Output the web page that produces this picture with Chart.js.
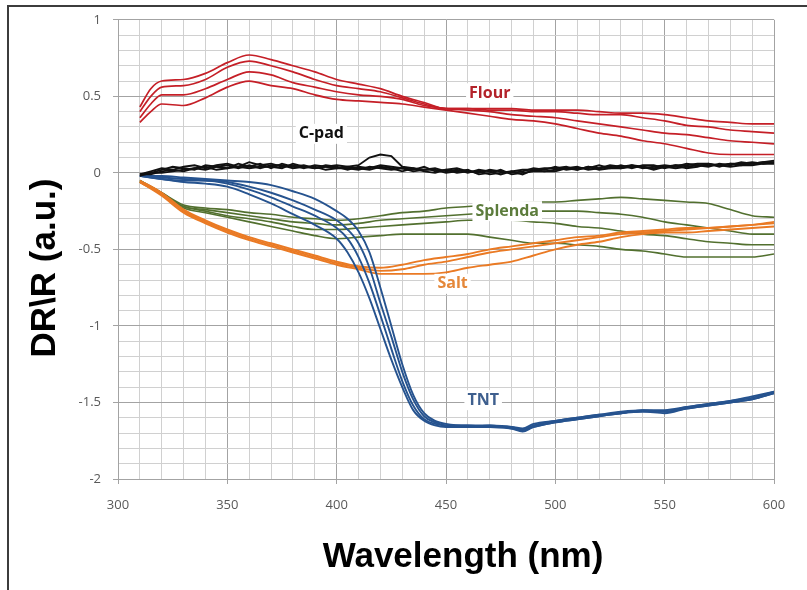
<!DOCTYPE html>
<html>
<head>
<meta charset="utf-8">
<script src="https://cdn.jsdelivr.net/npm/chart.js@4.4.1/dist/chart.umd.min.js"></script>
<style>
  html, body { margin: 0; padding: 0; background: #fff; }
  #wrap { position: relative; width: 807px; height: 590px; }
  #frame { position: absolute; left: 7px; top: 5px; right: 0; bottom: 0; border-top: 2px solid #3c3c3c; border-left: 2px solid #3c3c3c; pointer-events: none; }
</style>
</head>
<body>
<div id="wrap">
  <canvas id="chart" width="807" height="590"></canvas>
  <div id="frame"></div>
</div>
<script>
// wavelengths (nm) for each family of curves
const nm10 = [310,320,330,340,350,360,370,380,390,400,410,420,430,440,450,460,470,480,490,500,510,520,530,540,550,560,570,580,590,600];
const flourNm = [310,315,320,330,340,350,360,370,380,390,400,410,420,430,440,450,460,470,480,490,500,510,520,530,540,550,560,570,580,590,600];
const tntNm = [310,320,330,340,350,360,370,380,390,400,405,410,415,420,425,430,435,440,445,450,460,470,480,485,490,500,510,520,530,540,550,560,570,580,590,600];
const cpadNm = [310,315,320,325,330,335,340,345,350,355,360,365,370,375,380,385,390,395,400,405,410,415,420,425,430,435,440,445,450,455,460,465,470,475,480,485,490,495,500,505,510,515,520,525,530,535,540,545,550,555,560,565,570,575,580,585,590,595,600];

// Flour (4 runs)
const flour1 = [0.43,0.55,0.60,0.61,0.65,0.72,0.77,0.74,0.70,0.66,0.61,0.58,0.55,0.50,0.46,0.42,0.42,0.42,0.42,0.41,0.41,0.41,0.40,0.39,0.39,0.38,0.36,0.34,0.33,0.32,0.32];
const flour2 = [0.40,0.50,0.56,0.57,0.61,0.69,0.73,0.70,0.66,0.61,0.57,0.55,0.53,0.49,0.45,0.42,0.42,0.41,0.41,0.40,0.40,0.39,0.38,0.38,0.36,0.34,0.31,0.30,0.28,0.27,0.26];
const flour3 = [0.36,0.45,0.51,0.51,0.55,0.61,0.66,0.64,0.59,0.56,0.53,0.51,0.50,0.48,0.44,0.42,0.41,0.40,0.38,0.37,0.36,0.34,0.32,0.30,0.28,0.26,0.25,0.23,0.21,0.20,0.19];
const flour4 = [0.33,0.40,0.45,0.44,0.49,0.56,0.60,0.57,0.55,0.51,0.48,0.47,0.46,0.45,0.43,0.41,0.39,0.37,0.35,0.34,0.32,0.29,0.26,0.24,0.21,0.19,0.16,0.13,0.12,0.12,0.12];

// C-pad (4 runs, noisy)
const cpad1 = [-0.01,0.01,0.03,0.02,0.04,0.05,0.03,0.05,0.06,0.04,0.07,0.05,0.06,0.04,0.05,0.03,0.05,0.04,0.03,0.04,0.05,0.10,0.12,0.11,0.04,0.03,0.02,0.03,0.01,0.02,0.00,0.02,0.01,-0.01,0.01,0.02,0.02,0.03,0.03,0.04,0.02,0.04,0.03,0.05,0.04,0.05,0.03,0.04,0.05,0.04,0.06,0.05,0.04,0.06,0.05,0.07,0.06,0.07,0.08];
const cpad2 = [-0.01,0.00,0.02,0.04,0.03,0.02,0.05,0.04,0.03,0.06,0.04,0.06,0.03,0.06,0.04,0.05,0.03,0.05,0.04,0.02,0.04,0.03,0.05,0.04,0.03,0.02,0.04,0.01,0.02,0.03,0.01,0.00,0.02,0.01,0.00,0.01,0.03,0.02,0.04,0.02,0.03,0.03,0.05,0.03,0.05,0.03,0.05,0.05,0.03,0.05,0.05,0.06,0.06,0.04,0.06,0.06,0.07,0.06,0.07];
const cpad3 = [-0.02,0.00,0.00,0.01,0.02,0.03,0.02,0.04,0.05,0.03,0.05,0.03,0.05,0.05,0.03,0.04,0.04,0.02,0.03,0.03,0.02,0.04,0.03,0.02,0.03,0.01,0.02,0.02,0.00,0.01,0.02,-0.01,0.00,0.02,-0.01,0.00,0.01,0.01,0.02,0.03,0.04,0.02,0.03,0.04,0.03,0.04,0.04,0.02,0.04,0.03,0.04,0.05,0.05,0.05,0.04,0.05,0.05,0.06,0.06];
const cpad4 = [-0.01,-0.01,0.01,0.02,0.01,0.03,0.04,0.02,0.03,0.04,0.03,0.04,0.04,0.03,0.06,0.04,0.03,0.04,0.05,0.04,0.03,0.02,0.04,0.03,0.01,0.03,0.01,0.00,0.02,0.00,0.01,0.01,-0.01,0.00,0.01,-0.01,0.02,0.01,0.01,0.03,0.02,0.04,0.02,0.03,0.03,0.05,0.04,0.03,0.04,0.05,0.03,0.04,0.06,0.05,0.06,0.05,0.06,0.07,0.07];

// Splenda (4 runs)
const splenda1 = [-0.05,-0.13,-0.21,-0.23,-0.24,-0.26,-0.27,-0.29,-0.30,-0.31,-0.30,-0.28,-0.26,-0.25,-0.23,-0.22,-0.21,-0.20,-0.19,-0.19,-0.18,-0.17,-0.16,-0.17,-0.18,-0.19,-0.20,-0.24,-0.28,-0.29];
const splenda2 = [-0.05,-0.13,-0.22,-0.24,-0.26,-0.28,-0.30,-0.32,-0.33,-0.34,-0.33,-0.31,-0.30,-0.29,-0.28,-0.27,-0.26,-0.25,-0.25,-0.25,-0.25,-0.26,-0.27,-0.29,-0.32,-0.34,-0.36,-0.38,-0.40,-0.40];
const splenda3 = [-0.06,-0.14,-0.22,-0.25,-0.28,-0.30,-0.32,-0.35,-0.37,-0.37,-0.36,-0.35,-0.34,-0.33,-0.32,-0.31,-0.31,-0.31,-0.32,-0.33,-0.35,-0.36,-0.38,-0.40,-0.41,-0.43,-0.45,-0.46,-0.47,-0.47];
const splenda4 = [-0.06,-0.14,-0.23,-0.26,-0.29,-0.32,-0.35,-0.38,-0.41,-0.43,-0.42,-0.41,-0.40,-0.40,-0.40,-0.40,-0.42,-0.44,-0.46,-0.46,-0.47,-0.48,-0.50,-0.51,-0.53,-0.55,-0.55,-0.55,-0.55,-0.53];

// Salt (3 runs)
const salt1 = [-0.05,-0.13,-0.24,-0.31,-0.37,-0.42,-0.46,-0.50,-0.54,-0.58,-0.61,-0.62,-0.60,-0.57,-0.55,-0.53,-0.50,-0.48,-0.46,-0.44,-0.42,-0.41,-0.39,-0.38,-0.37,-0.36,-0.36,-0.35,-0.34,-0.32];
const salt2 = [-0.06,-0.14,-0.25,-0.32,-0.38,-0.43,-0.47,-0.51,-0.55,-0.59,-0.62,-0.64,-0.63,-0.60,-0.58,-0.55,-0.52,-0.50,-0.48,-0.46,-0.44,-0.42,-0.40,-0.39,-0.38,-0.37,-0.36,-0.35,-0.34,-0.33];
const salt3 = [-0.06,-0.15,-0.26,-0.33,-0.39,-0.44,-0.48,-0.52,-0.56,-0.60,-0.63,-0.66,-0.66,-0.66,-0.65,-0.62,-0.60,-0.58,-0.54,-0.50,-0.47,-0.45,-0.42,-0.40,-0.39,-0.39,-0.38,-0.37,-0.36,-0.35];

// TNT (4 runs)
const tnt1 = [-0.02,-0.02,-0.03,-0.04,-0.05,-0.06,-0.08,-0.12,-0.17,-0.25,-0.30,-0.38,-0.52,-0.75,-1.00,-1.25,-1.45,-1.57,-1.62,-1.64,-1.65,-1.65,-1.66,-1.68,-1.65,-1.62,-1.60,-1.58,-1.56,-1.55,-1.56,-1.53,-1.51,-1.49,-1.47,-1.43];
const tnt2 = [-0.02,-0.03,-0.04,-0.05,-0.06,-0.09,-0.13,-0.18,-0.24,-0.31,-0.37,-0.46,-0.62,-0.85,-1.07,-1.30,-1.48,-1.59,-1.63,-1.65,-1.65,-1.66,-1.66,-1.67,-1.64,-1.62,-1.60,-1.58,-1.57,-1.55,-1.55,-1.53,-1.51,-1.49,-1.46,-1.43];
const tnt3 = [-0.02,-0.04,-0.05,-0.05,-0.07,-0.11,-0.16,-0.22,-0.28,-0.36,-0.43,-0.55,-0.72,-0.93,-1.15,-1.36,-1.52,-1.61,-1.64,-1.65,-1.66,-1.65,-1.67,-1.69,-1.66,-1.63,-1.61,-1.59,-1.57,-1.56,-1.56,-1.54,-1.52,-1.50,-1.48,-1.44];
const tnt4 = [-0.02,-0.04,-0.06,-0.07,-0.09,-0.14,-0.20,-0.27,-0.34,-0.43,-0.52,-0.65,-0.82,-1.02,-1.22,-1.40,-1.55,-1.62,-1.65,-1.66,-1.66,-1.66,-1.67,-1.68,-1.66,-1.63,-1.61,-1.59,-1.57,-1.56,-1.57,-1.54,-1.52,-1.50,-1.48,-1.44];

const xTicks = [300, 350, 400, 450, 500, 550, 600];
const yTicks = [1, 0.5, 0, -0.5, -1, -1.5, -2];
const seriesNames = ['C-pad', 'TNT', 'Salt', 'Splenda', 'Flour'];

// first group ends up on top
const groups = [
  { name: 'C-pad', nm: cpadNm, runs: [cpad1, cpad2, cpad3, cpad4], color: '#111111', width: 1.9, smooth: false },
  { name: 'TNT', nm: tntNm, runs: [tnt1, tnt2, tnt3, tnt4], color: '#26538f', width: 1.9, smooth: true },
  { name: 'Salt', nm: nm10, runs: [salt1, salt2, salt3], color: '#ea7a24', width: 1.9, smooth: true },
  { name: 'Splenda', nm: nm10, runs: [splenda1, splenda2, splenda3, splenda4], color: '#52702f', width: 1.6, smooth: true },
  { name: 'Flour', nm: flourNm, runs: [flour1, flour2, flour3, flour4], color: '#c51f27', width: 1.7, smooth: true }
];

const datasets = [];
groups.forEach(g => {
  g.runs.forEach((ys, i) => {
    datasets.push({
      label: g.name + ' ' + (i + 1),
      data: g.nm.map((x, k) => ({ x: x, y: ys[k] })),
      borderColor: g.color,
      borderWidth: g.width,
      pointRadius: 0,
      fill: false,
      cubicInterpolationMode: g.smooth ? 'monotone' : 'default',
      tension: 0
    });
  });
});

const labelStyle = {
  'Flour':   { nm: 470, v: 0.52,  color: '#b3222a' },
  'C-pad':   { nm: 393, v: 0.255, color: '#111111' },
  'Splenda': { nm: 478, v: -0.25, color: '#5c7c3c' },
  'Salt':    { nm: 453, v: -0.725, color: '#e5883a' },
  'TNT':     { nm: 467, v: -1.485, color: '#3e5f8e' }
};

const isMajor = (v, step) => Math.abs(v / step - Math.round(v / step)) < 1e-6;

const annotations = {
  id: 'annotations',
  afterDatasetsDraw(chart) {
    const { ctx, scales } = chart;
    ctx.save();
    ctx.font = 'bold 16px "Open Sans"';
    ctx.textAlign = 'center';
    ctx.textBaseline = 'middle';
    seriesNames.forEach(name => {
      const s = labelStyle[name];
      const px = scales.x.getPixelForValue(s.nm);
      const py = scales.y.getPixelForValue(s.v);
      const w = ctx.measureText(name).width;
      ctx.fillStyle = '#ffffff';
      ctx.fillRect(px - w / 2 - 3, py - 10, w + 6, 20);
      ctx.fillStyle = s.color;
      ctx.fillText(name, px, py);
    });
    ctx.restore();
  },
  afterDraw(chart) {
    const ctx = chart.ctx;
    ctx.save();
    ctx.fillStyle = '#000';
    ctx.font = 'bold 35px "Liberation Sans", Arial';
    ctx.textAlign = 'center';
    ctx.textBaseline = 'alphabetic';
    ctx.fillText('Wavelength (nm)', 463, 567);
    ctx.translate(55, 268);
    ctx.rotate(-Math.PI / 2);
    ctx.fillText('DR\\R (a.u.)', 0, 0);
    ctx.restore();
  }
};

new Chart(document.getElementById('chart'), {
  type: 'line',
  data: { datasets: datasets },
  options: {
    responsive: false,
    animation: false,
    events: [],
    layout: { padding: { top: 17, right: 33, left: 0, bottom: 0 } },
    plugins: { legend: { display: false }, tooltip: { enabled: false } },
    scales: {
      x: {
        type: 'linear', min: 300, max: 600,
        afterFit: s => { s.height = 111; },
        afterBuildTicks: s => { s.ticks = []; for (let v = 300; v <= 600; v += 10) s.ticks.push({ value: v }); },
        ticks: {
          autoSkip: false, maxRotation: 0, padding: 13,
          color: '#595959', font: { family: 'Open Sans', size: 13 },
          callback: v => xTicks.includes(v) ? String(v) : ''
        },
        grid: {
          color: c => c.tick && isMajor(c.tick.value, 50) ? '#a3a3a3' : '#d0d0d0',
          tickColor: c => c.tick && isMajor(c.tick.value, 50) ? '#a3a3a3' : 'rgba(0,0,0,0)',
          tickLength: 5, lineWidth: 1
        },
        border: { color: '#a3a3a3' }
      },
      y: {
        type: 'linear', min: -2, max: 1,
        afterFit: s => { s.width = 118; },
        afterBuildTicks: s => { s.ticks = []; for (let k = -20; k <= 10; k++) s.ticks.push({ value: k / 10 }); },
        ticks: {
          autoSkip: false, padding: 12,
          color: '#595959', font: { family: 'Open Sans', size: 13 },
          callback: v => {
            const t = yTicks.find(y => Math.abs(y - v) < 1e-6);
            return t === undefined ? '' : String(t);
          }
        },
        grid: {
          color: c => c.tick && isMajor(c.tick.value, 0.5) ? '#a3a3a3' : '#d0d0d0',
          tickColor: c => c.tick && isMajor(c.tick.value, 0.5) ? '#a3a3a3' : 'rgba(0,0,0,0)',
          tickLength: 5, lineWidth: 1
        },
        border: { color: '#a3a3a3' }
      }
    }
  },
  plugins: [annotations]
});
</script>
</body>
</html>
